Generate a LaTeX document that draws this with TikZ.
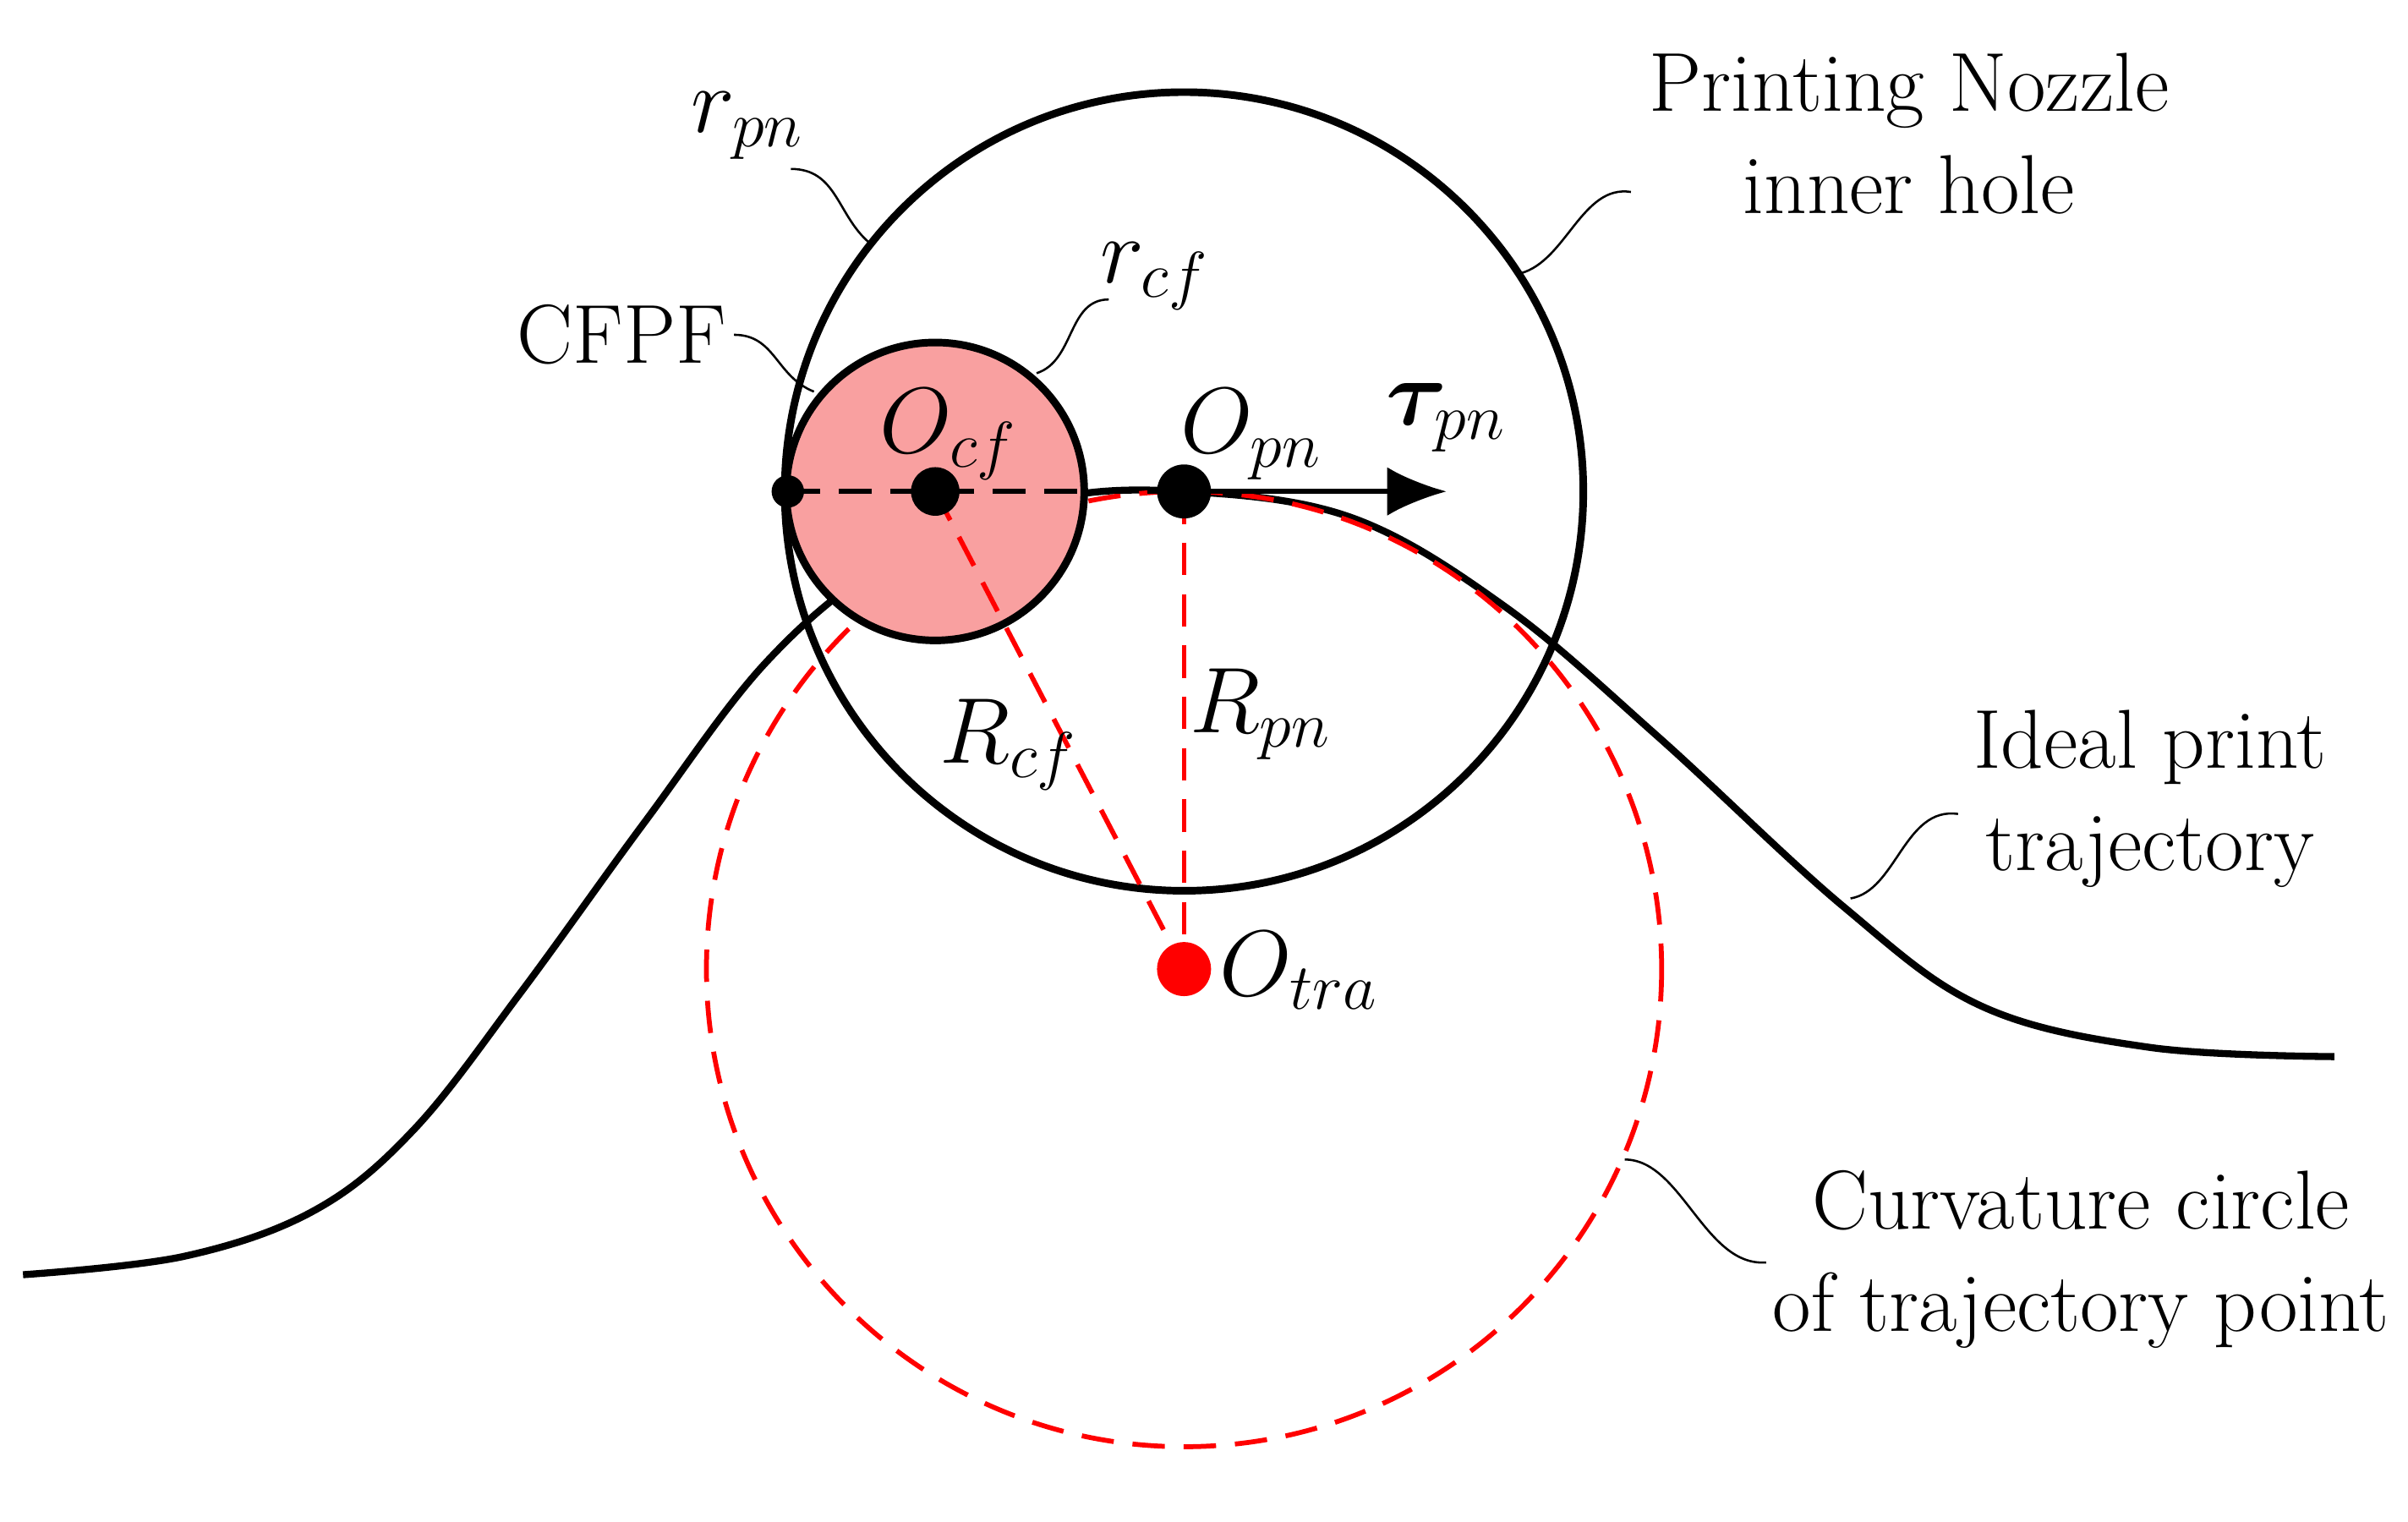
\documentclass[tikz,border=0pt]{standalone}
\usepackage{amsmath,bm}
\usetikzlibrary{arrows.meta}
\begin{document}
\begin{tikzpicture}[x=0.01cm,y=-0.01cm,
  lbl/.style={font=\fontsize{15.5}{19}\selectfont,align=center},
  sym/.style={font=\fontsize{17}{20}\selectfont,inner sep=1pt},
  lead/.style={line width=0.4pt},
  rdash/.style={red,line width=0.9pt,dash pattern=on 6pt off 3.5pt},
  dot/.style={circle,fill=black,inner sep=0pt,minimum size=#1}]
\useasboundingbox (0,0) rectangle (1568,991);
\definecolor{pinkf}{HTML}{F9A0A0}
% trajectory
\draw[line width=1.3pt] plot[smooth,tension=0.6] coordinates {(15,830) (120,818) (205,788) (270,735) (340,645) (420,535) (500,430) (580,365) (680,326) (771,320) (880,337) (980,395) (1080,480) (1200,590) (1290,655) (1400,682) (1520,688)};
% red curvature circle
\coordinate (Otra) at (771,631);
\draw[rdash] (Otra) circle (311);
% nozzle
\coordinate (Opn) at (771,320);
\draw[line width=1.4pt] (Opn) circle (260);
% CFPF
\coordinate (Ocf) at (609,320);
\draw[line width=1.4pt,fill=pinkf] (Ocf) circle (97);
% dashed lines
\coordinate (L) at (513,320);
\draw[line width=0.9pt,dash pattern=on 6pt off 3.5pt] (L) -- (Opn);
\draw[rdash] (Ocf) -- (Otra);
\draw[rdash] (Opn) -- (Otra);
\coordinate (T) at (942,320);
\draw[line width=0.9pt,-{Latex[length=11pt,width=9pt]}] (Opn) -- (T);
\node[dot=6pt] at (L) {};
\node[dot=9pt] at (Ocf) {};
\node[dot=10pt] at (Opn) {};
\node[dot=10pt,fill=red] at (Otra) {};
% labels
\node[sym] (locf) at (618,283) {$O_{cf}$};
\node[sym] (lopn) at (815,283) {$O_{pn}$};
\node[sym] (ltau) at (942,272) {$\bm{\tau}_{pn}$};
\node[sym] (lrcf) at (657,485) {$R_{cf}$};
\node[sym] (lrpn) at (821,465) {$R_{pn}$};
\node[sym,anchor=west] (lotra) at (790,632) {$O_{tra}$};
\node[sym] (rpn) at (487,82) {$r_{pn}$};
\node[sym] (rcf) at (752,180) {$r_{cf}$};
\node[lbl] (cfpf) at (405,218) {CFPF};
\node[lbl] (pn) at (1243,87) {Printing Nozzle\\inner hole};
\node[lbl] (ipt) at (1400,520) {Ideal print\\trajectory};
\node[lbl] (cc) at (1355,820) {Curvature circle\\of trajectory point};
% leaders
\coordinate (a1) at (515,110); \coordinate (a2) at (566,158);
\draw[lead] (a1) .. controls (545,110) and (545,140) .. (a2);
\coordinate (b1) at (1062,125); \coordinate (b2) at (990,178);
\draw[lead] (b1) .. controls (1030,120) and (1020,170) .. (b2);
\coordinate (c1) at (722,195); \coordinate (c2) at (675,243);
\draw[lead] (c1) .. controls (695,195) and (700,235) .. (c2);
\coordinate (d1) at (478,218); \coordinate (d2) at (530,255);
\draw[lead] (d1) .. controls (505,218) and (505,245) .. (d2);
\coordinate (e1) at (1275,530); \coordinate (e2) at (1205,585);
\draw[lead] (e1) .. controls (1240,525) and (1235,580) .. (e2);
\coordinate (f1) at (1150,822); \coordinate (f2) at (1058,755);
\draw[lead] (f1) .. controls (1110,825) and (1095,755) .. (f2);
\end{tikzpicture}
\end{document}
